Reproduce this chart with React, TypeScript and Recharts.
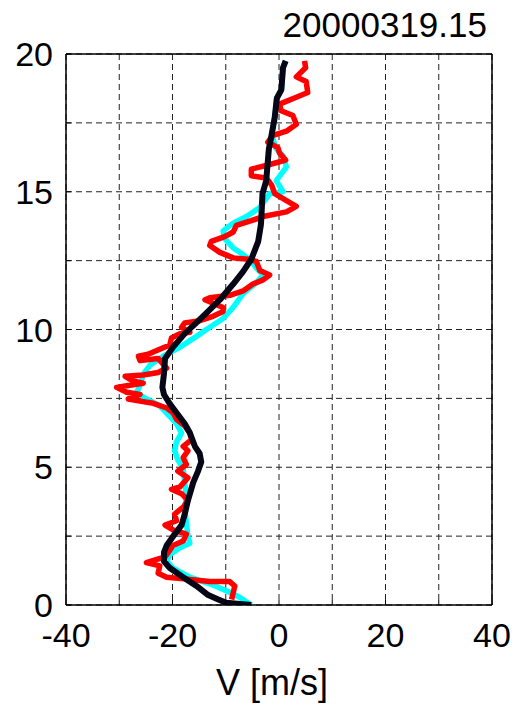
import { LineChart, Line, XAxis, YAxis, CartesianGrid, ReferenceLine } from "recharts"

const xTicks = [-40, -30, -20, -10, 0, 10, 20, 30, 40]
const xLabels = [-40, -20, 0, 20, 40]
const yTicks = [0, 2.5, 5, 7.5, 10, 12.5, 15, 17.5, 20]
const yLabels = [0, 5, 10, 15, 20]

// [V (m/s), height] pairs, top to bottom
const redProfile = [
  [4.8, 19.75], [5.0, 19.5], [3.25, 19.17], [5.1, 19.0], [5.4, 18.6], [3.25, 18.43],
  [0.1, 18.18], [0.4, 17.94], [2.6, 17.77], [3.25, 17.45], [1.4, 17.2], [-1.1, 17.05],
  [-2.1, 16.8], [-0.2, 16.6], [0.1, 16.4], [1.25, 16.15], [-1.75, 15.99], [-5.2, 15.82],
  [-5.2, 15.58], [-2.4, 15.5], [-1.4, 15.25], [-0.8, 14.93], [1.4, 14.68], [3.25, 14.47],
  [1.4, 14.27], [-3.0, 14.1], [-5.2, 13.95], [-8.0, 13.78], [-8.6, 13.54], [-10.2, 13.37],
  [-12.7, 13.2], [-13.0, 13.05], [-11.1, 12.8], [-8.6, 12.6], [-5.8, 12.55], [-4.25, 12.47],
  [-3.6, 12.14], [-1.75, 11.98], [-3.0, 11.8], [-4.9, 11.65], [-6.75, 11.4], [-9.25, 11.24],
  [-13.0, 11.15], [-13.9, 11.08], [-10.5, 10.8], [-10.5, 10.65], [-12.4, 10.48], [-14.9, 10.32],
  [-17.7, 10.24], [-18.3, 10.08], [-16.75, 9.9], [-18.6, 9.85], [-20.2, 9.69], [-20.5, 9.44],
  [-22.4, 9.28], [-24.6, 9.1], [-26.4, 9.03], [-26.1, 8.87], [-22.7, 8.95], [-21.1, 8.6],
  [-22.7, 8.44], [-25.5, 8.35], [-28.9, 8.3], [-27.4, 8.13], [-25.5, 8.05], [-28.3, 7.97],
  [-30.5, 7.9], [-28.6, 7.72], [-26.1, 7.64], [-28.3, 7.48], [-26.1, 7.4], [-23.6, 7.32],
  [-21.1, 7.15], [-19.9, 6.98], [-19.25, 6.74], [-17.7, 6.5], [-16.75, 6.25], [-16.4, 6.0],
  [-18.0, 5.76], [-17.1, 5.6], [-18.0, 5.35], [-17.4, 5.1], [-19.0, 4.86], [-17.1, 4.62],
  [-18.6, 4.29], [-20.2, 4.2], [-18.3, 4.04], [-17.1, 3.8], [-18.0, 3.55], [-19.6, 3.3],
  [-19.25, 3.06], [-21.4, 2.9], [-19.9, 2.73], [-17.4, 2.57], [-18.0, 2.32], [-19.9, 2.16],
  [-20.8, 1.91], [-21.4, 1.75], [-24.9, 1.54], [-22.4, 1.42], [-22.7, 1.15], [-21.1, 1.01],
  [-16.75, 0.93], [-13.0, 0.85], [-9.25, 0.85], [-8.3, 0.69], [-8.6, 0.44], [-8.9, 0.2],
]

const cyanProfile = [
  [1.25, 19.75], [0.75, 19.5], [0.44, 18.7], [-0.4, 18.4], [-0.8, 17.7], [-1.4, 17.05],
  [-0.5, 16.56], [0.75, 16.3], [1.4, 15.9], [-0.5, 15.4], [0.75, 15.0], [-1.75, 14.93],
  [-3.6, 14.43], [-6.1, 14.1], [-8.6, 13.86], [-10.5, 13.58], [-10.2, 13.3], [-8.6, 12.96],
  [-6.75, 12.72], [-5.2, 12.47], [-4.25, 12.23], [-3.0, 11.98], [-4.25, 11.7], [-6.75, 11.3],
  [-8.6, 10.8], [-10.5, 10.4], [-13.0, 10.08], [-15.5, 9.75], [-18.6, 9.36], [-21.75, 9.03],
  [-24.25, 8.7], [-25.5, 8.38], [-26.1, 7.97], [-26.75, 7.72], [-24.9, 7.48], [-22.4, 7.23],
  [-20.8, 6.9], [-19.25, 6.58], [-18.3, 6.25], [-19.25, 5.92], [-19.6, 5.6], [-19.0, 5.27],
  [-18.0, 4.94], [-17.7, 4.45], [-17.4, 3.96], [-17.7, 3.47], [-17.4, 2.98], [-17.1, 2.49],
  [-16.75, 2.24], [-18.6, 2.08], [-20.5, 1.83], [-21.1, 1.59], [-19.9, 1.34], [-16.75, 1.01],
  [-13.0, 0.77], [-9.9, 0.52], [-7.4, 0.28], [-5.2, 0.0],
]

const blackProfile = [
  [1.25, 19.75], [0.75, 19.5], [0.44, 18.7], [-0.4, 18.4], [-0.8, 17.7], [-1.4, 17.05],
  [-1.9, 16.56], [-2.25, 15.75], [-2.4, 15.4], [-3.1, 14.93], [-3.3, 14.1], [-3.4, 13.8],
  [-3.9, 13.2], [-5.2, 12.55], [-6.75, 12.1], [-8.6, 11.65], [-11.1, 11.08], [-13.6, 10.6],
  [-15.5, 10.25], [-17.7, 9.85], [-19.9, 9.36], [-21.4, 8.95], [-21.6, 8.4], [-21.9, 7.9],
  [-21.6, 7.64], [-20.5, 7.3], [-19.25, 6.98], [-17.7, 6.58], [-16.75, 6.25], [-15.8, 5.76],
  [-14.9, 5.5], [-14.6, 5.19], [-15.2, 4.86], [-16.1, 4.45], [-17.1, 3.8], [-17.7, 3.3],
  [-18.3, 2.9], [-19.9, 2.49], [-21.1, 2.16], [-21.6, 1.91], [-21.6, 1.59], [-20.5, 1.34],
  [-18.0, 1.01], [-15.5, 0.69], [-13.3, 0.36], [-11.4, 0.2], [-9.9, 0.08], [-5.2, 0.0],
]

const toPoints = (rows: number[][]) => rows.map(([v, h]) => ({ v, h }))

const FONT = "'Liberation Sans', Arial, Helvetica, sans-serif"

const YTick = ({ x, y, payload }: any) => (
  <g>
    <line x1={x} x2={x + 5} y1={y} y2={y} stroke="#000" strokeWidth={1} />
    {yLabels.includes(payload.value) && (
      <text x={x - 13} y={y + 12} textAnchor="end" fontSize={34} fontFamily={FONT} fill="#000">
        {payload.value}
      </text>
    )}
  </g>
)

const XTick = ({ x, y, payload }: any) => (
  <g>
    <line x1={x} x2={x} y1={y} y2={y - 5} stroke="#000" strokeWidth={1} />
    {xLabels.includes(payload.value) && (
      <text x={x} y={y + 42} textAnchor="middle" fontSize={34} fontFamily={FONT} fill="#000">
        {payload.value}
      </text>
    )}
  </g>
)

export default function App() {
  return (
    <div style={{ position: "absolute", left: 0, top: 0, width: 525, height: 707, background: "#fff" }}>
      <LineChart width={525} height={707} margin={{ top: 54, right: 33, left: 0, bottom: 0 }}>
        <CartesianGrid stroke="#222" strokeDasharray="6 4" strokeWidth={1} />
        <XAxis
          dataKey="v"
          type="number"
          domain={[-40, 40]}
          ticks={xTicks}
          allowDataOverflow
          height={102}
          tickSize={0}
          tickMargin={0}
          tickLine={false}
          tick={<XTick />}
          axisLine={{ stroke: "#000", strokeWidth: 1.5 }}
        />
        <YAxis
          type="number"
          domain={[0, 20]}
          ticks={yTicks}
          allowDataOverflow
          width={66}
          tickSize={0}
          tickMargin={0}
          tickLine={false}
          tick={<YTick />}
          axisLine={{ stroke: "#000", strokeWidth: 1.5 }}
        />
        <ReferenceLine y={20} stroke="#000" strokeWidth={1.5} />
        <ReferenceLine x={40} stroke="#000" strokeWidth={1.5} />
        <Line data={toPoints(cyanProfile)} dataKey="h" type="linear" stroke="#00ffff" strokeWidth={5.5}
          dot={false} isAnimationActive={false} strokeLinejoin="round" />
        <Line data={toPoints(redProfile)} dataKey="h" type="linear" stroke="#ff0000" strokeWidth={5.5}
          dot={false} isAnimationActive={false} strokeLinejoin="round" />
        <Line data={toPoints(blackProfile)} dataKey="h" type="linear" stroke="#060616" strokeWidth={6}
          dot={false} isAnimationActive={false} strokeLinejoin="round" />
      </LineChart>
      <svg width={525} height={707} style={{ position: "absolute", left: 0, top: 0, pointerEvents: "none" }}>
        <text x={487} y={37} textAnchor="end" fontSize={35} fontFamily={FONT} fill="#000">
          20000319.15
        </text>
        <text x={272} y={695} textAnchor="middle" fontSize={36} fontFamily={FONT} fill="#000">
          V [m/s]
        </text>
      </svg>
    </div>
  )
}
